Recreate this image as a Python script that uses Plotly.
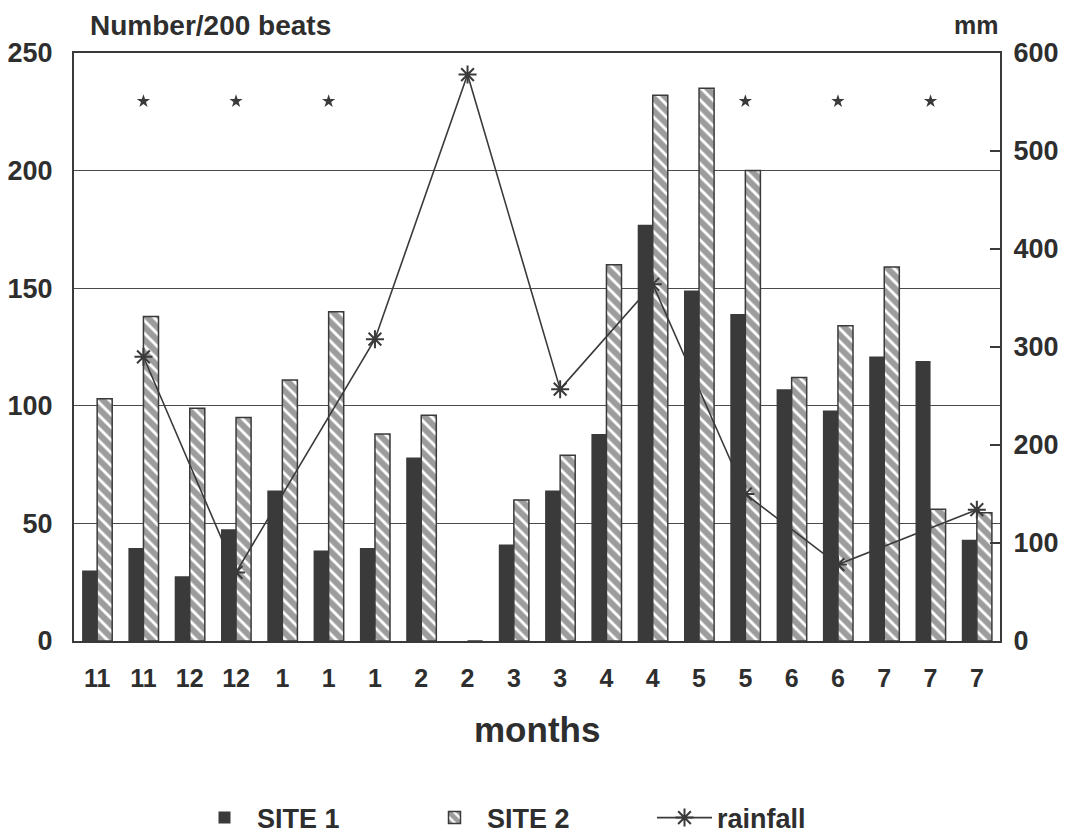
import plotly.graph_objects as go

# ---- data ----
month_labels = ["11", "11", "12", "12", "1", "1", "1", "2", "2", "3",
                "3", "4", "4", "5", "5", "6", "6", "7", "7", "7"]
site1 = [30, 39.5, 27.5, 47.5, 64, 38.5, 39.5, 78, 0, 41,
         64, 88, 177, 149, 139, 107, 98, 121, 119, 43]
site2 = [103, 138, 99, 95, 111, 140, 88, 96, 0, 60,
         79, 160, 232, 235, 200, 112, 134, 159, 56, 54.5]
rain_pos = [1, 3, 6, 8, 10, 12, 14, 16, 19]
rain_mm = [290, 70, 308, 578, 257, 364, 150, 78, 134]
signif_pos = [1, 3, 5, 14, 16, 18]
signif_level = [229.5] * len(signif_pos)

DARK = "#3a3a3a"
FONT = "Liberation Sans"
x = list(range(len(month_labels)))

fig = go.Figure()
fig.add_trace(go.Bar(
    x=x, y=site1, name="SITE 1",
    marker=dict(color=DARK, line=dict(width=0)),
))
fig.add_trace(go.Bar(
    x=x, y=site2, name="SITE 2",
    marker=dict(color="white", line=dict(color=DARK, width=1.5),
                pattern=dict(shape="\\", fgcolor=DARK, bgcolor="white",
                             size=9, solidity=0.68)),
))
fig.add_trace(go.Scatter(
    x=signif_pos, y=signif_level, mode="markers", showlegend=False,
    marker=dict(symbol="star", size=10, color=DARK), hoverinfo="skip",
))
fig.add_trace(go.Scatter(
    x=rain_pos, y=rain_mm, name="rainfall", yaxis="y2",
    mode="lines+markers",
    line=dict(color=DARK, width=1.6),
    marker=dict(symbol="asterisk-open", size=15,
                line=dict(color=DARK, width=2), color=DARK),
))

fig.update_layout(
    width=1079, height=839,
    margin=dict(l=74, r=79, t=53, b=198, autoexpand=False),
    paper_bgcolor="white", plot_bgcolor="white",
    font=dict(family=FONT, color="#2e2e2e", size=24, weight="bold"),
    barmode="group", bargap=0.35, bargroupgap=0,
    showlegend=True,
    legend=dict(orientation="h", x=0.5, xanchor="center",
                yref="container", y=0.025, yanchor="middle",
                font=dict(size=27, family=FONT, weight="bold"),
                itemwidth=55, entrywidth=160, entrywidthmode="pixels",
                traceorder="normal"),
    xaxis=dict(range=[-0.5, 19.5], tickmode="array", tickvals=x,
               ticktext=month_labels, showgrid=False, zeroline=False,
               showline=True, linecolor=DARK, linewidth=2, mirror=True,
               ticks="", ticklabelstandoff=14,
               tickfont=dict(size=25, family=FONT, weight="bold")),
    yaxis=dict(range=[0, 250], tickvals=[0, 50, 100, 150, 200, 250],
               showgrid=True, gridcolor="#4a4a4a", gridwidth=1,
               zeroline=False, showline=True, linecolor=DARK, linewidth=2,
               ticks="", ticklabelstandoff=14,
               tickfont=dict(size=27, family=FONT, weight="bold")),
    yaxis2=dict(range=[0, 600], tickvals=[0, 100, 200, 300, 400, 500, 600],
                overlaying="y", side="right", showgrid=False, zeroline=False,
                showline=True, linecolor=DARK, linewidth=2,
                ticks="inside", ticklen=10, tickwidth=2, tickcolor=DARK,
                ticklabelstandoff=6,
                tickfont=dict(size=27, family=FONT, weight="bold")),
    annotations=[
        dict(text="Number/200 beats", xref="paper", yref="paper",
             x=0.015, y=1.0, yshift=28, xanchor="left", yanchor="middle",
             showarrow=False, font=dict(size=28, family=FONT, weight="bold")),
        dict(text="mm", xref="paper", yref="paper",
             x=1.0, y=1.0, yshift=28, xanchor="right", yanchor="middle",
             showarrow=False, font=dict(size=25, family=FONT, weight="bold")),
        dict(text="months", xref="paper", yref="paper",
             x=0.5, y=0, yshift=-88, xanchor="center", yanchor="middle",
             showarrow=False, font=dict(size=35, family=FONT, weight="bold")),
    ],
)

fig.write_html("out.html")
